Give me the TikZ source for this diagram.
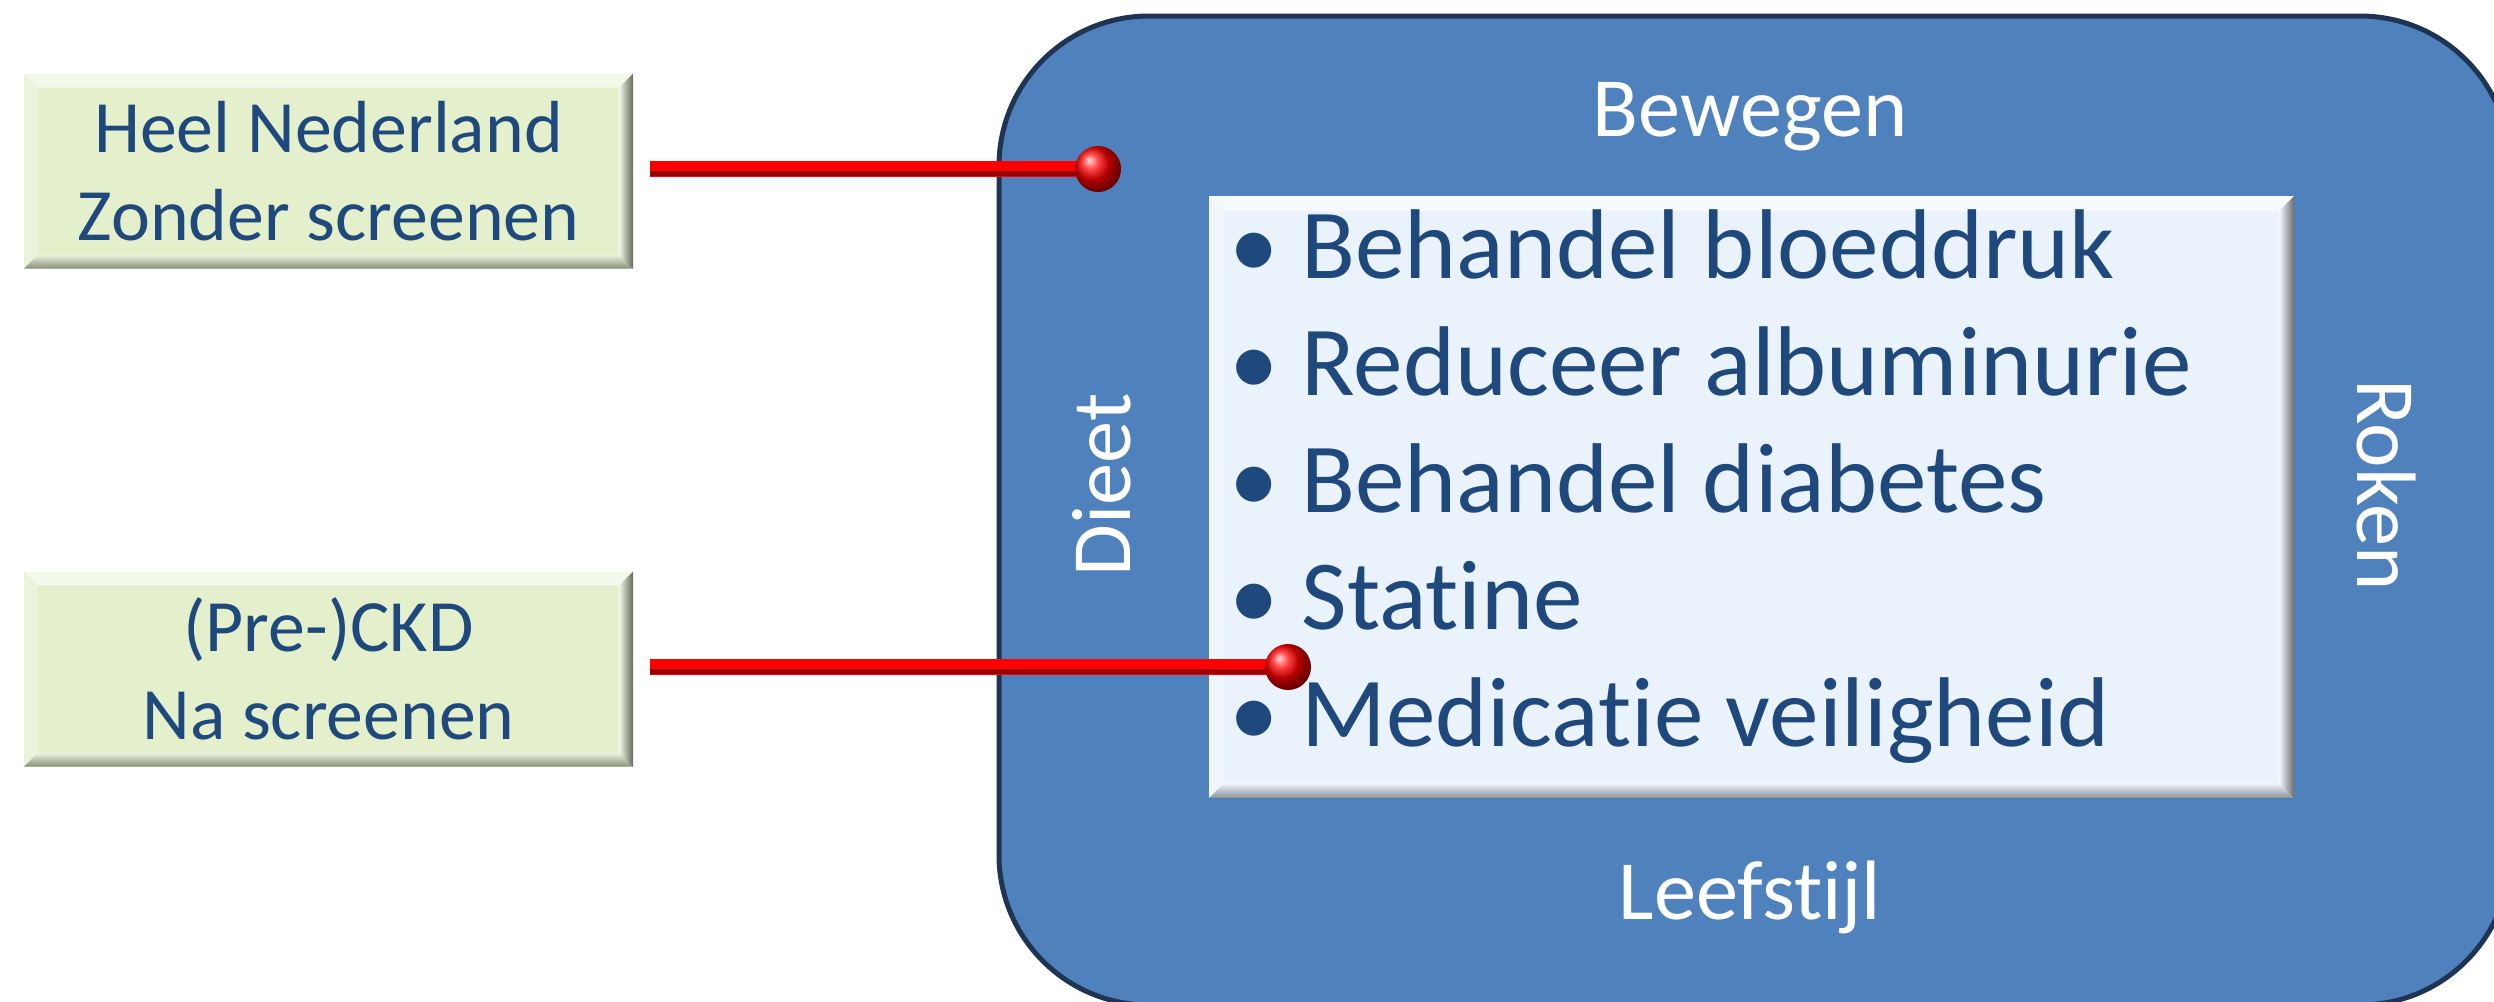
\documentclass[tikz,border=0pt]{standalone}
\usepackage{fontspec}
\setmainfont{Carlito}[Ligatures={NoCommon}]
\usepackage{tikz}
\usetikzlibrary{positioning, calc, shadings}
\definecolor{boxgreen}{RGB}{227, 240, 203}
\definecolor{textblue}{RGB}{31, 73, 125}
\definecolor{outerblue}{RGB}{79, 129, 189}
\definecolor{outerline}{RGB}{30, 52, 82}
\definecolor{innerfill}{RGB}{234, 243, 252}
\definecolor{barred}{RGB}{255, 0, 0}

\tikzset{
    bevel/.style={path picture={
        \coordinate (bnw) at (path picture bounding box.north west);
        \coordinate (bne) at (path picture bounding box.north east);
        \coordinate (bse) at (path picture bounding box.south east);
        \coordinate (bsw) at (path picture bounding box.south west);
        \fill[white, opacity=0.6] (bnw) -- (bne) -- ($(bne)+(-#1,-#1)$) -- ($(bnw)+(#1,-#1)$) -- cycle;
        \fill[white, opacity=0.3] (bnw) -- (bsw) -- ($(bsw)+(#1,#1)$) -- ($(bnw)+(#1,-#1)$) -- cycle;
        \shade[left color=white, right color=black, opacity=0.55] (bne) -- (bse) -- ($(bse)+(-#1,#1)$) -- ($(bne)+(-#1,-#1)$) -- cycle;
        \shade[top color=white, bottom color=black, opacity=0.4] (bsw) -- (bse) -- ($(bse)+(-#1,#1)$) -- ($(bsw)+(#1,#1)$) -- cycle;
    }},
}

\begin{document}
\begin{tikzpicture}[
    group/.style={bevel=0.14, fill=boxgreen, minimum width=6.09cm, minimum height=1.95cm, align=center, text=textblue, font=\fontsize{21}{25}\selectfont},
    outer/.style={draw=outerline, line width=0.05cm, fill=outerblue, rounded corners=1.5cm, minimum width=15.11cm, minimum height=9.89cm},
    inner/.style={bevel=0.15, fill=innerfill, minimum width=10.85cm, minimum height=6.02cm},
    factor/.style={text=white, font=\fontsize{24}{28}\selectfont},
    bullets/.style={text=textblue, align=left, inner sep=0pt, font=\fontsize{28.2}{33.3}\selectfont},
    redbar/.style={line width=0.16cm, draw=barred, postaction={draw=barred!60!black, line width=0.05cm, transform canvas={yshift=-0.04cm}}},
    pinball/.style={circle, shade, ball color=barred, minimum size=0.46cm, inner sep=0pt},
]
    \clip (0, 0) rectangle (24.94, -10.01);
    \useasboundingbox (0, 0) rectangle (24.94, -10.01);

    % Leefstijl
    \node[outer] (leefstijl) at (17.545, -5.105) {};
    \node[inner] (behandeling) at (17.515, -4.97) {};
    \node[factor] (bewegen) at (17.5, -1.17) {Bewegen};
    \node[factor] (leefstijltxt) at (17.5, -8.97) {Leefstijl};
    \node[factor, rotate=90] (dieet) at (11.02, -4.85) {Dieet};
    \node[factor, rotate=-90] (roken) at (23.86, -4.85) {Roken};

    % Behandeling
    \node[bullets, anchor=west] (aanpak) at (12.29, -4.87) {%
        \makebox[0.72cm][l]{•}Behandel bloeddruk\\
        \makebox[0.72cm][l]{•}Reduceer albuminurie\\
        \makebox[0.72cm][l]{•}Behandel diabetes\\
        \makebox[0.72cm][l]{•}Statine\\
        \makebox[0.72cm][l]{•}Medicatie veiligheid};

    % Groepen
    \node[group] (heel) at (3.285, -1.71) {Heel Nederland\\Zonder screenen};
    \node[group] (ckd) at (3.285, -6.69) {(Pre-)CKD\\Na screenen};

    % Pinnen
    \coordinate (end1) at (10.98, -1.69);
    \coordinate (end2) at (12.88, -6.67);
    \draw[redbar, shorten <=0.16cm] (heel.east |- end1) -- (end1);
    \draw[redbar, shorten <=0.16cm] (ckd.east |- end2) -- (end2);
    \node[pinball] (pin1) at (end1) {};
    \node[pinball] (pin2) at (end2) {};

\end{tikzpicture}
\end{document}
